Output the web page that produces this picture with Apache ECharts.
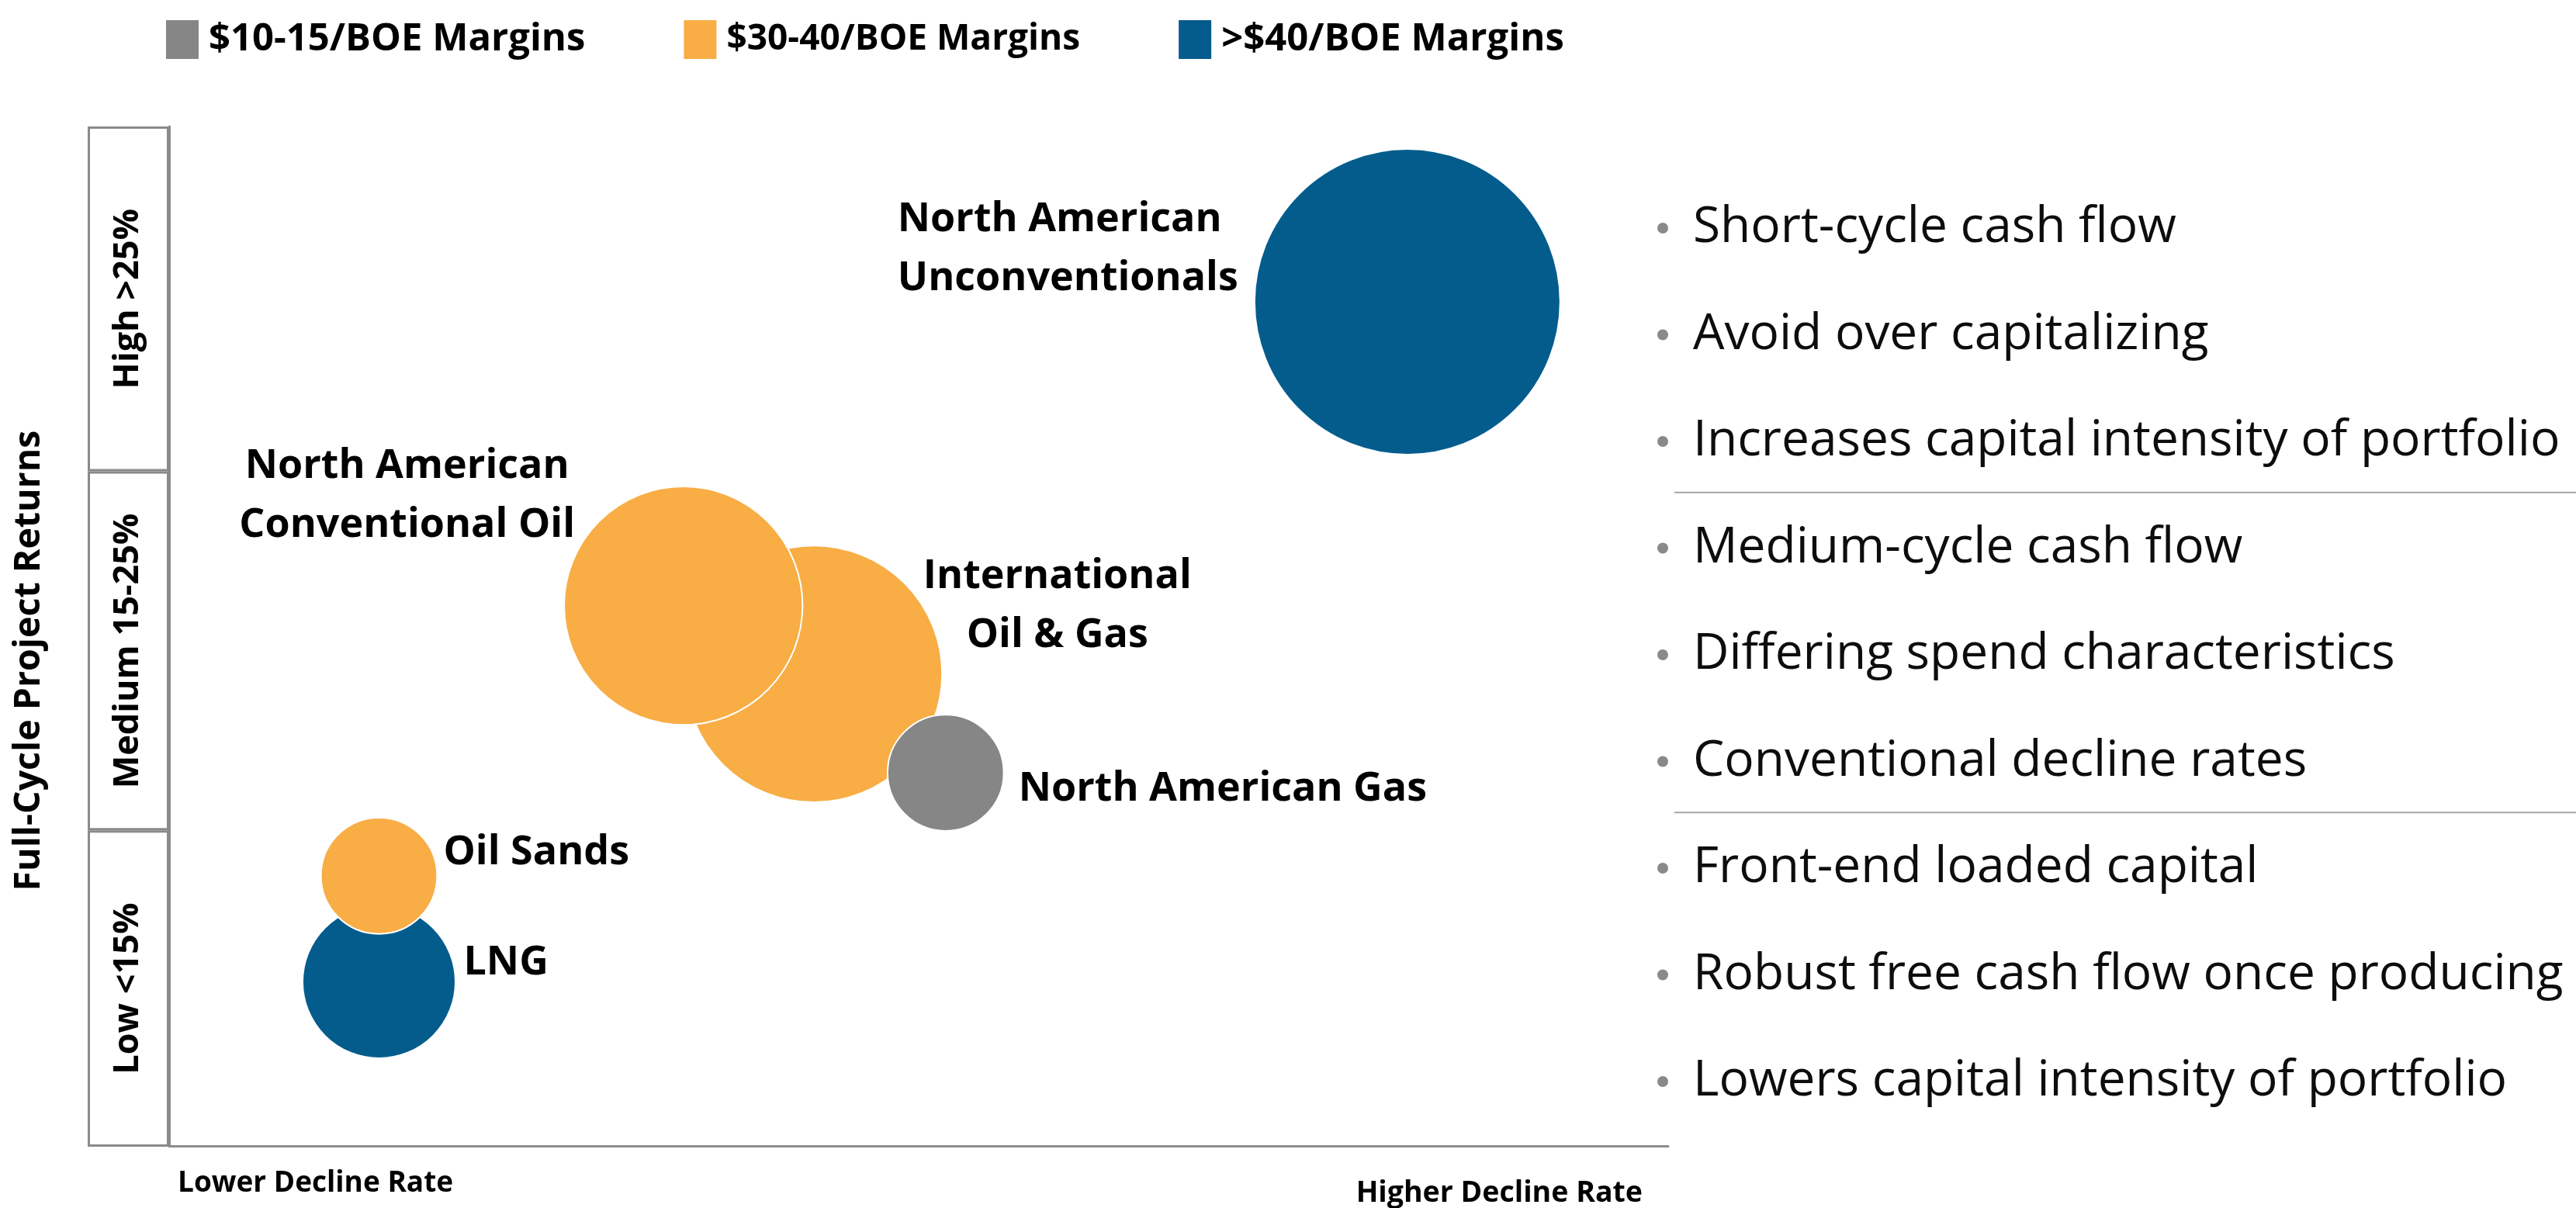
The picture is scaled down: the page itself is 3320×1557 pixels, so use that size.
<!DOCTYPE html>
<html>
<head>
<meta charset="utf-8">
<title>Full-Cycle Project Returns</title>
<script src="https://cdn.jsdelivr.net/npm/echarts@6/dist/echarts.min.js"></script>
<style>
    html, body { margin: 0; padding: 0; background: #fff; }
    #chart { width: 3320px; height: 1557px; }
</style>
</head>
<body>
<div id="chart"></div>
<script>
// margin groups, in legend order
var marginGroups = ['$10-15/BOE Margins', '$30-40/BOE Margins', '>$40/BOE Margins'];
var groupColors = ['#868686', '#F8AD45', '#045C8D'];

// plays: decline rate (0 low - 100 high), returns (0 - 100), relative bubble size, margin group
var plays = ['International\nOil & Gas', 'North American\nConventional Oil', 'Oil Sands', 'LNG',
    'North American Gas', 'North American\nUnconventionals'];
var declineRate = [43.0, 34.3, 14.0, 14.0, 51.8, 82.6];
var projectReturns = [46.3, 53.0, 26.5, 16.1, 36.6, 82.8];
var bubbleSize = [84, 78, 38, 50, 38, 100];
var playGroup = [1, 1, 1, 2, 0, 2];

// return bands on the y axis
var returnBands = ['Low <15%', 'Medium 15-25%', 'High >25%'];
var bandUpper = [31, 66.2, 100];

var xEndLabels = ['Lower Decline Rate', 'Higher Decline Rate'];
var yTitle = 'Full-Cycle Project Returns';

var bulletGroups = [
    ['Short-cycle cash flow', 'Avoid over capitalizing', 'Increases capital intensity of portfolio'],
    ['Medium-cycle cash flow', 'Differing spend characteristics', 'Conventional decline rates'],
    ['Front-end loaded capital', 'Robust free cash flow once producing', 'Lowers capital intensity of portfolio']
];

// where each play's label sits, relative to its bubble centre
var labelPlace = {
    'International\nOil & Gas': { align: 'center', offset: [314, -87] },
    'North American\nConventional Oil': { align: 'center', offset: [-356, -141] },
    'Oil Sands': { align: 'left', offset: [83, -30] },
    'LNG': { align: 'left', offset: [109, -24] },
    'North American Gas': { align: 'left', offset: [94, 21] },
    'North American\nUnconventionals': { align: 'left', offset: [-657, -68] }
};

var FONT = 'Open Sans';

init();

function init() {
    var chart = echarts.init(document.getElementById('chart'));
    chart.setOption(buildOption());
}

function bubbleSeries() {
    var list = [];
    // blue first, then orange, then gray so overlaps stack like the original
    [2, 1, 0].forEach(function (g) {
        var data = [];
        for (var i = 0; i < plays.length; i++) {
            if (playGroup[i] !== g) continue;
            var p = labelPlace[plays[i]];
            data.push({
                name: plays[i],
                value: [declineRate[i], projectReturns[i], bubbleSize[i]],
                label: { align: p.align, offset: p.offset }
            });
        }
        list.push({
            type: 'scatter',
            name: marginGroups[g],
            xAxisIndex: 0,
            yAxisIndex: 0,
            data: data,
            symbolSize: function (val) { return val[2] * 3.94; },
            itemStyle: { color: groupColors[g], borderColor: '#fff', borderWidth: 2, opacity: 1 },
            label: {
                show: true,
                position: 'inside',
                verticalAlign: 'middle',
                formatter: '{b}',
                fontFamily: FONT,
                fontWeight: 'bold',
                fontSize: 52,
                lineHeight: 76,
                color: '#000'
            },
            emphasis: { disabled: true },
            silent: true
        });
    });
    return list;
}

function bandSeries() {
    var list = [];
    var prev = 0;
    for (var i = 0; i < returnBands.length; i++) {
        list.push({
            type: 'bar',
            stack: 'band',
            xAxisIndex: 1,
            yAxisIndex: 1,
            barWidth: '100%',
            data: [bandUpper[i] - prev],
            itemStyle: { color: '#fff', borderColor: '#8a8a8a', borderWidth: 3 },
            label: {
                show: true,
                position: 'inside',
                rotate: 90,
                formatter: returnBands[i],
                fontFamily: FONT,
                fontWeight: 'bold',
                fontSize: 45,
                color: '#000'
            },
            silent: true
        });
        prev = bandUpper[i];
    }
    return list;
}

function bulletGraphics() {
    var els = [];
    var y0 = 294, step = 137.5, k = 0;
    bulletGroups.forEach(function (group, gi) {
        group.forEach(function (txt) {
            var y = y0 + k * step;
            els.push({ type: 'circle', shape: { cx: 2143, cy: y, r: 7 }, style: { fill: '#8a8a8a' } });
            els.push({
                type: 'text', x: 2182, y: y,
                style: { text: txt, fontFamily: FONT, fontSize: 64, fill: '#0d0d0d', verticalAlign: 'middle' }
            });
            k++;
        });
        if (gi < bulletGroups.length - 1) {
            var ly = y0 + (k - 0.5) * step;
            els.push({
                type: 'line',
                shape: { x1: 2158, y1: ly - 3, x2: 3320, y2: ly - 3 },
                style: { stroke: '#a6a6a6', lineWidth: 2 }
            });
        }
    });
    return els;
}

function buildOption() {
    var legendText = { fontFamily: FONT, fontWeight: 'bold', fontSize: 49, color: '#000', padding: [0, 0, 0, 7] };
    return {
        animation: false,
        backgroundColor: '#fff',
        legend: {
            data: [
                { name: marginGroups[0] },
                { name: marginGroups[1], textStyle: { fontSize: 46 } },
                { name: marginGroups[2] }
            ],
            left: 207,
            top: 19,
            icon: 'rect',
            itemWidth: 44,
            itemHeight: 52,
            itemGap: 125,
            selectedMode: false,
            textStyle: legendText
        },
        grid: [
            { left: 218, top: 163, width: 1932, height: 1315 },
            { left: 113, top: 163, width: 105, height: 1315 }
        ],
        xAxis: [{
            type: 'value',
            gridIndex: 0,
            min: 0,
            max: 100,
            interval: 100,
            axisLine: { lineStyle: { color: '#8c8c8c', width: 3 } },
            axisTick: { show: false },
            splitLine: { show: false },
            axisLabel: {
                margin: 30,
                alignMinLabel: 'left',
                alignMaxLabel: 'right',
                formatter: function (v) {
                    return v === 0 ? '{lo|' + xEndLabels[0] + '}' : '{hi|' + xEndLabels[1] + '}';
                },
                rich: {
                    lo: { fontFamily: FONT, fontWeight: 'bold', fontSize: 37, color: '#000', padding: [0, 0, 0, 11] },
                    hi: { fontFamily: FONT, fontWeight: 'bold', fontSize: 37.5, color: '#000', padding: [12, 33, 0, 0] }
                }
            }
        }, {
            type: 'category',
            gridIndex: 1,
            data: [''],
            show: false
        }],
        yAxis: [{
            type: 'value',
            gridIndex: 0,
            min: 0,
            max: 100,
            axisLine: { show: true, lineStyle: { color: '#8c8c8c', width: 3 } },
            axisTick: { show: false },
            axisLabel: { show: false },
            splitLine: { show: false }
        }, {
            type: 'value',
            gridIndex: 1,
            min: 0,
            max: 100,
            name: yTitle,
            nameLocation: 'middle',
            nameRotate: 90,
            nameGap: 52,
            nameTextStyle: { fontFamily: FONT, fontWeight: 'bold', fontSize: 46.5, color: '#000', padding: [0, 62, 0, 0] },
            axisLine: { show: false },
            axisTick: { show: false },
            axisLabel: { show: false },
            splitLine: { show: false }
        }],
        graphic: bulletGraphics(),
        series: bandSeries().concat(bubbleSeries())
    };
}
</script>
</body>
</html>
